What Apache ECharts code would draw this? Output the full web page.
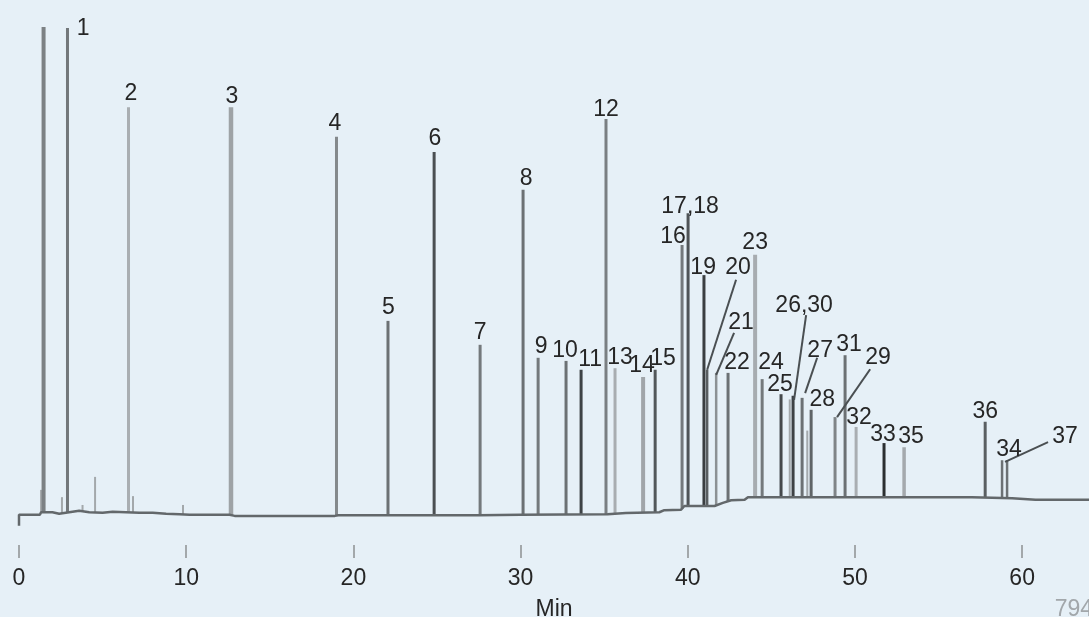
<!DOCTYPE html>
<html>
<head>
<meta charset="utf-8">
<script src="https://cdn.jsdelivr.net/npm/echarts@6/dist/echarts.min.js"></script>
<style>
  html, body { margin: 0; padding: 0; background: #e6f0f7; }
  #box { width: 1089px; height: 617px; }
</style>
</head>
<body>
<div id="box"></div>
<script>
// time axis ticks (min)
var tickValues = [0, 10, 20, 30, 40, 50, 60];

// labelled peaks: retention time (min) and height (signal units, 0-100)
var peakNames = ['S', '1', '2', '3', '4', '5', '6', '7', '8', '9', '10', '11', '12', '13', '14', '15',
    '16', '17,18', '19', '20', '21', '22', '23', '24', '25', '26', '27', '28', '29', '31', '32',
    '33', '35', '36', '34', '37'];
var peakTimes = [1.47, 2.90, 6.55, 12.68, 18.99, 22.07, 24.83, 27.58, 30.15, 31.05, 32.72, 33.62, 35.11, 35.65, 37.33, 38.05,
    39.66, 40.02, 40.97, 41.16, 41.70, 42.41, 44.03, 44.45, 45.58, 46.30, 46.84, 47.38, 48.81, 49.41, 50.07,
    51.74, 52.94, 57.79, 58.80, 59.10];
var peakHeights = [99.6, 99.4, 84.2, 84.2, 78.5, 43.1, 75.6, 38.5, 68.3, 36.0, 35.4, 33.7, 81.9, 34.0, 32.3, 33.7,
    57.7, 63.8, 51.9, 33.7, 33.1, 33.1, 55.8, 31.9, 29.0, 28.7, 28.3, 26.0, 24.6, 36.5, 22.7,
    19.6, 18.8, 23.7, 16.3, 16.3];

// small unlabelled bumps
var minorTimes = [1.32, 2.57, 3.80, 4.55, 6.82, 9.81, 46.10, 47.15];
var minorHeights = [10.6, 9.2, 7.7, 13.1, 9.4, 7.7, 28.0, 22.0];

// drifting baseline [time, signal]
var baseline = [[0, 3.7], [0, 5.8], [1.25, 5.8], [1.32, 6.3], [2.0, 6.3], [2.4, 6.0], [3.0, 6.3], [3.6, 6.6],
    [4.2, 6.3], [5.0, 6.2], [5.6, 6.4], [6.4, 6.3], [7.2, 6.2], [8.0, 6.2], [8.8, 6.0], [9.6, 5.9],
    [10.2, 5.8], [12.6, 5.8], [12.9, 5.6], [18.9, 5.6], [19.1, 5.7], [27.5, 5.7], [30.0, 5.8],
    [35.2, 5.9], [36.3, 6.15], [38.3, 6.3], [38.6, 6.7], [39.6, 6.8], [39.8, 7.5], [41.6, 7.5],
    [42.1, 8.1], [42.6, 8.6], [43.4, 8.7], [43.6, 9.2], [57.0, 9.2], [59.4, 9.0], [60.8, 8.7], [64, 8.7]];

// peak number labels: text and where the text sits [time, signal]
var labelTexts = ['1', '2', '3', '4', '5', '6', '7', '8', '9', '10', '11', '12', '13', '14', '15', '16',
    '17,18', '19', '20', '21', '22', '23', '24', '25', '26,30', '27', '28', '29', '31', '32', '33',
    '35', '36', '34', '37'];
var labelTimes = [3.83, 6.70, 12.74, 18.90, 22.10, 24.88, 27.58, 30.33, 31.23, 32.66, 34.16, 35.11, 35.95, 37.27, 38.52, 39.12,
    40.14, 40.92, 43.01, 43.19, 42.95, 44.03, 44.98, 45.52, 46.96, 47.92, 48.04, 51.38, 49.65, 50.25, 51.68,
    53.36, 57.79, 59.22, 62.57];
var labelHeights = [99.6, 87.1, 86.7, 81.4, 46.0, 78.5, 41.3, 70.8, 38.5, 37.7, 36.0, 84.2, 36.5, 34.8, 36.2, 59.6,
    65.4, 53.7, 53.7, 43.1, 35.4, 58.5, 35.4, 31.3, 46.5, 37.7, 28.3, 36.5, 39.0, 24.8, 21.7,
    21.3, 26.0, 18.8, 21.3];

// leader lines from peak top to its label [[t0, v0], [t1, v1]]
var leaders = [
    [[41.16, 33.7], [42.89, 51.0]],
    [[41.70, 32.7], [42.77, 40.8]],
    [[46.36, 27.9], [47.08, 44.2]],
    [[47.02, 29.2], [47.74, 36.0]],
    [[48.93, 24.6], [50.91, 33.8]],
    [[58.98, 16.0], [61.55, 19.8]]
];

// grey tone of each stick
var shade = {
    'S': ['#7c8184', 4], '1': ['#72777a', 3], '2': ['#a9aeb2', 3], '3': ['#9ea3a6', 4.5], '4': ['#84898c', 3],
    '5': ['#6c7174', 3], '6': ['#4a4f52', 3], '7': ['#74797c', 3], '8': ['#6c7174', 3], '9': ['#74797c', 3],
    '10': ['#6c7174', 3], '11': ['#3e4346', 3], '12': ['#7a7f82', 3], '13': ['#a8adb1', 3], '14': ['#a0a5a9', 4],
    '15': ['#52575a', 3], '16': ['#74797c', 3], '17,18': ['#4f5457', 3], '19': ['#3a3e41', 3], '20': ['#585d60', 2.5],
    '21': ['#8c9194', 2.5], '22': ['#6c7174', 3], '23': ['#a7acb0', 4], '24': ['#74797c', 3], '25': ['#45494c', 3],
    '26': ['#3e4245', 3], '27': ['#6c7174', 3], '28': ['#5f6467', 3], '29': ['#7f8487', 3], '31': ['#6c7174', 3],
    '32': ['#a9aeb2', 3], '33': ['#2b2f31', 3], '35': ['#a4a9ad', 3.5], '36': ['#5a5f62', 3], '34': ['#6c7174', 2.5],
    '37': ['#6c7174', 2.5]
};

function baseAt(t) {
    for (var i = 1; i < baseline.length; i++) {
        if (baseline[i][0] >= t && baseline[i][0] > baseline[i - 1][0]) {
            var a = baseline[i - 1], b = baseline[i];
            return a[1] + (b[1] - a[1]) * (t - a[0]) / (b[0] - a[0]);
        }
    }
    return baseline[baseline.length - 1][1];
}

var peakData = [];
for (var i = 0; i < peakTimes.length; i++) {
    peakData.push({ name: peakNames[i], value: [peakTimes[i], peakHeights[i]] });
}
var minorData = [];
for (var j = 0; j < minorTimes.length; j++) {
    minorData.push([minorTimes[j], minorHeights[j]]);
}
var labelData = [];
for (var k = 0; k < labelTexts.length; k++) {
    labelData.push({ name: labelTexts[k], value: [labelTimes[k], labelHeights[k]] });
}

function stick(color, width) {
    return function (params, api) {
        var t = api.value(0);
        var top = api.coord([t, api.value(1)]);
        var bot = api.coord([t, baseAt(t)]);
        var st = color ? [color, width] : (shade[peakNames[params.dataIndex]] || ['#72777a', 3]);
        return {
            type: 'line',
            shape: { x1: top[0], y1: top[1], x2: bot[0], y2: bot[1] },
            style: { stroke: st[0], lineWidth: st[1] }
        };
    };
}

var myChart = echarts.init(document.getElementById('box'));
var option = {
    backgroundColor: '#e6f0f7',
    animation: false,
    grid: { left: 19, right: 0, top: 25, bottom: 72, outerBoundsMode: 'none', containLabel: false },
    xAxis: {
        type: 'value',
        min: 0,
        max: 64,
        interval: 10,
        name: 'Min',
        nameLocation: 'middle',
        nameGap: 53,
        nameTextStyle: { fontSize: 23, color: '#262626', fontFamily: 'Liberation Sans' },
        axisLine: { show: false },
        axisTick: {
            show: true,
            length: 13,
            customValues: tickValues,
            lineStyle: { color: '#a3a8ab', width: 2 }
        },
        axisLabel: {
            customValues: tickValues,
            margin: 22,
            fontSize: 23,
            color: '#262626',
            fontFamily: 'Liberation Sans'
        },
        splitLine: { show: false }
    },
    yAxis: {
        type: 'value',
        min: 0,
        max: 100,
        show: false
    },
    graphic: [{
        type: 'text',
        right: -4,
        bottom: -4,
        style: { text: '794', fill: '#a2a7ab', font: '23px Liberation Sans' }
    }],
    series: [{
        type: 'line',
        data: baseline,
        showSymbol: false,
        lineStyle: { color: '#63686b', width: 2.5 },
        z: 3
    }, {
        type: 'custom',
        data: minorData,
        renderItem: stick('#a3a8ab', 2),
        z: 2
    }, {
        type: 'custom',
        data: peakData,
        renderItem: stick(),
        z: 2
    }, {
        type: 'custom',
        data: leaders,
        renderItem: function (params, api) {
            var l = leaders[params.dataIndex];
            var p0 = api.coord(l[0]), p1 = api.coord(l[1]);
            return {
                type: 'line',
                shape: { x1: p0[0], y1: p0[1], x2: p1[0], y2: p1[1] },
                style: { stroke: '#4a4f52', lineWidth: 2 }
            };
        },
        encode: { x: [], y: [] },
        z: 4
    }, {
        type: 'custom',
        data: labelData,
        renderItem: function (params, api) {
            var p = api.coord([api.value(0), api.value(1)]);
            return {
                type: 'text',
                x: p[0],
                y: p[1] + 2,
                style: {
                    text: labelTexts[params.dataIndex],
                    fill: '#262626',
                    font: '23px Liberation Sans',
                    align: 'center',
                    verticalAlign: 'middle'
                }
            };
        },
        z: 5
    }]
};
myChart.setOption(option);
</script>
</body>
</html>
